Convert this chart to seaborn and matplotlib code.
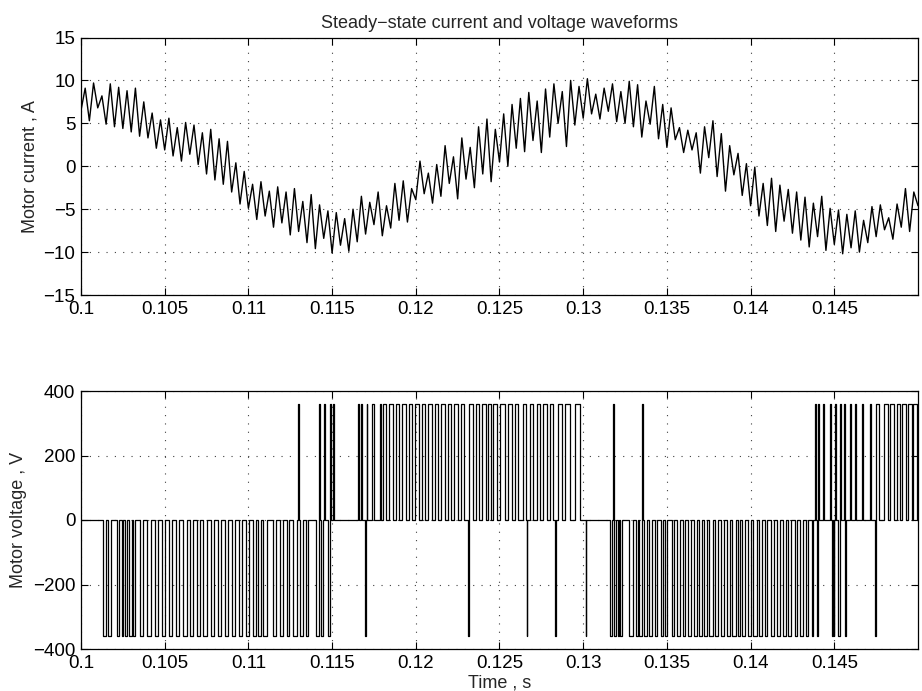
import numpy as np
import pandas as pd
import matplotlib
matplotlib.use("Agg")
import matplotlib.pyplot as plt
import seaborn as sns

# ---------------- data ----------------
T_START, T_END = 0.100, 0.150          # s
CUR_STEP = 0.00025                     # s, sampling step of the current trace

# motor current samples, A (one value every CUR_STEP, starting at T_START)
motor_current = [
    6.5, 9.1, 5.3, 9.7, 6.8, 8.2, 4.9, 9.6, 4.6, 9.2,
    4.4, 8.8, 4.0, 9.1, 3.5, 7.5, 3.3, 6.2, 2.1, 5.4,
    1.9, 5.6, 1.2, 4.5, 0.6, 5.1, 1.4, 4.8, 0.2, 3.9,
    -0.9, 4.3, -1.6, 3.2, -2.1, 2.9, -3.0, 0.4, -4.4, -0.6,
    -4.9, -2.1, -6.2, -1.8, -5.8, -2.9, -7.1, -2.4, -6.6, -3.0,
    -8.0, -2.6, -7.6, -4.1, -8.9, -3.3, -9.6, -4.5, -8.4, -5.2,
    -10.1, -5.4, -9.2, -6.1, -9.9, -5.0, -8.8, -3.5, -7.9, -4.2,
    -6.8, -3.0, -8.1, -4.6, -7.2, -2.0, -6.3, -1.7, -6.5, -2.6,
    -3.9, 0.6, -3.2, -0.8, -4.3, 0.2, -3.5, 2.4, -2.0, 1.1,
    -3.8, 3.3, -1.5, 2.2, -2.5, 4.6, -0.9, 5.5, -1.8, 4.3,
    0.5, 6.1, 0.0, 7.2, 2.1, 7.9, 1.7, 8.6, 3.0, 7.6,
    1.6, 9.0, 3.4, 9.6, 5.0, 8.7, 2.3, 10.0, 4.8, 9.3,
    5.6, 10.2, 6.1, 8.4, 5.5, 9.1, 6.4, 9.6, 5.2, 8.7,
    5.0, 9.9, 4.6, 9.5, 3.4, 7.6, 4.9, 9.3, 3.2, 7.2,
    2.2, 6.8, 3.1, 4.5, 1.6, 4.2, 1.9, 3.9, -0.8, 4.6,
    1.0, 5.3, -1.2, 3.8, -2.9, 2.4, -1.0, 1.5, -3.4, 0.3,
    -4.6, -0.1, -5.8, -2.0, -6.9, -1.4, -7.6, -2.2, -6.4, -2.7,
    -7.8, -3.0, -8.6, -3.6, -9.4, -4.3, -8.2, -3.5, -9.8, -4.9,
    -9.1, -5.1, -10.2, -5.6, -9.5, -5.2, -10.0, -6.3, -8.9, -4.7,
    -8.2, -4.5, -7.4, -6.0, -8.5, -4.4, -7.1, -2.6, -7.6, -3.0,
    -4.6,
]

DC_LINK = 360.0   # V, pulse amplitude

# negative voltage pulses: start (ms) and width (ms)
neg_start_ms = [
    101.34, 101.64, 102.13, 102.43, 102.63, 102.87, 103.09, 103.53, 103.96, 104.42,
    104.82, 105.26, 105.68, 106.11, 106.51, 106.91, 107.31, 107.75, 108.17, 108.58,
    109.00, 109.42, 109.86, 110.30, 110.59, 110.89, 111.45, 111.89, 112.29, 112.69,
    113.06, 113.45, 114.02, 114.32, 114.74,
    116.97, 123.14, 126.62, 128.31, 130.14,
    131.62, 131.84, 132.08, 132.22, 132.75, 133.15, 133.35, 133.63, 133.95, 134.29,
    134.62, 134.88, 135.28, 135.58, 135.94, 136.28, 136.62, 136.93, 137.22, 137.54,
    137.88, 138.21, 138.57, 138.91, 139.23, 139.47, 139.83, 140.17, 140.52, 140.86,
    141.20, 141.56, 141.92, 142.26, 142.65, 142.95, 143.31, 143.65,
    143.95, 144.86, 144.96, 145.24, 145.64, 147.43,
]
neg_width_ms = [
    0.16, 0.13, 0.16, 0.10, 0.14, 0.16, 0.14, 0.20, 0.20, 0.20,
    0.20, 0.20, 0.20, 0.20, 0.20, 0.20, 0.20, 0.20, 0.20, 0.20,
    0.20, 0.20, 0.20, 0.16, 0.16, 0.20, 0.20, 0.16, 0.16, 0.19,
    0.22, 0.14, 0.18, 0.14, 0.12,
    0.045, 0.045, 0.045, 0.045, 0.045,
    0.12, 0.12, 0.08, 0.08, 0.20, 0.12, 0.14, 0.16, 0.16, 0.13,
    0.16, 0.14, 0.14, 0.20, 0.14, 0.14, 0.16, 0.16, 0.20, 0.20,
    0.20, 0.20, 0.20, 0.20, 0.14, 0.20, 0.18, 0.20, 0.14, 0.14,
    0.20, 0.20, 0.20, 0.14, 0.14, 0.20, 0.10, 0.10,
    0.06, 0.05, 0.04, 0.08, 0.08, 0.04,
]

# positive voltage pulses: start (ms) and width (ms)
pos_start_ms = [
    112.96, 114.24, 114.50, 114.90, 115.04,
    116.57, 116.70, 117.07, 117.37, 117.87, 118.02, 118.41, 118.80, 119.19, 119.58,
    119.97, 120.36, 120.75, 121.14, 121.53, 121.92, 122.31, 122.70, 123.20, 123.59,
    123.98, 124.30, 124.63, 125.03, 125.52, 125.92, 126.42, 126.82, 127.22, 127.62,
    128.02, 128.51, 128.91, 129.51,
    131.78, 133.51,
    143.85, 144.04, 144.35, 144.75, 145.04, 145.34, 145.56, 145.94, 146.24, 146.65,
    147.13, 147.52, 147.98, 148.33, 148.73, 149.03, 149.42, 149.72,
]
pos_width_ms = [
    0.05, 0.05, 0.05, 0.05, 0.06,
    0.06, 0.07, 0.04, 0.14, 0.06, 0.20, 0.20, 0.20, 0.20, 0.20,
    0.20, 0.20, 0.20, 0.20, 0.20, 0.20, 0.20, 0.20, 0.20, 0.20,
    0.20, 0.18, 0.20, 0.30, 0.20, 0.20, 0.16, 0.20, 0.20, 0.20,
    0.20, 0.20, 0.30, 0.30,
    0.045, 0.045,
    0.05, 0.05, 0.05, 0.05, 0.08, 0.05, 0.05, 0.06, 0.06, 0.06,
    0.08, 0.18, 0.20, 0.25, 0.20, 0.25, 0.25, 0.20,
]

x_ticks = [0.1, 0.105, 0.11, 0.115, 0.12, 0.125, 0.13, 0.135, 0.14, 0.145]
x_tick_labels = ["0.1", "0.105", "0.11", "0.115", "0.12", "0.125", "0.13", "0.135", "0.14", "0.145"]
cur_ticks = [-15, -10, -5, 0, 5, 10, 15]
volt_ticks = [-400, -200, 0, 200, 400]

# ---------------- tables ----------------
cur_df = pd.DataFrame({
    "t": T_START + CUR_STEP * np.arange(len(motor_current)),
    "i": motor_current,
})

pulses = sorted(
    [(s, w, -DC_LINK) for s, w in zip(neg_start_ms, neg_width_ms)]
    + [(s, w, DC_LINK) for s, w in zip(pos_start_ms, pos_width_ms)]
)
tv, vv = [T_START], [0.0]
for s, w, lvl in pulses:
    t0, t1 = s * 1e-3, (s + w) * 1e-3
    tv += [t0, t0, t1, t1]
    vv += [0.0, lvl, lvl, 0.0]
tv.append(T_END)
vv.append(0.0)
volt_df = pd.DataFrame({"t": tv, "v": vv})

# ---------------- style ----------------
sns.set_theme(style="white")
plt.rcParams["font.family"] = ["Liberation Sans", "DejaVu Sans"]
plt.rcParams["axes.unicode_minus"] = True

W, H = 922, 691
fig = plt.figure(figsize=(W / 100, H / 100), dpi=100)
fig.patch.set_facecolor("white")
ax1 = fig.add_axes([81 / W, 1 - 295 / H, 837 / W, 257.5 / H])
ax2 = fig.add_axes([81 / W, 1 - 649 / H, 837 / W, 258 / H])

sns.lineplot(data=cur_df, x="t", y="i", ax=ax1, color="black", lw=1.0,
             estimator=None, sort=False)
sns.lineplot(data=volt_df, x="t", y="v", ax=ax2, color="black", lw=0.9,
             estimator=None, sort=False)

FS = 13.5
for ax, yt in ((ax1, cur_ticks), (ax2, volt_ticks)):
    ax.set_xlim(T_START, T_END)
    ax.set_ylim(yt[0], yt[-1])
    ax.set_xticks(x_ticks)
    ax.set_xticklabels(x_tick_labels)
    ax.set_yticks(yt)
    ax.set_facecolor("white")
    ax.grid(True, color="0.25", linestyle=(0, (1, 6.5)), linewidth=0.8)
    ax.set_axisbelow(True)
    for sp in ax.spines.values():
        sp.set_visible(True)
        sp.set_color("black")
        sp.set_linewidth(0.9)
    ax.tick_params(direction="in", length=5, width=0.8, top=True, right=True,
                   bottom=True, left=True, labelsize=FS, pad=4, colors="black")
    ax.set_xlabel("")

ax1.set_ylabel("Motor current , A", fontsize=13)
ax2.set_ylabel("Motor voltage , V", fontsize=13)
ax2.set_xlabel("Time , s", fontsize=13, labelpad=2)
ax1.set_title("Steady\u2212state current and voltage waveforms", fontsize=13, pad=7)

fig.savefig("out.png", dpi=100, facecolor="white")
